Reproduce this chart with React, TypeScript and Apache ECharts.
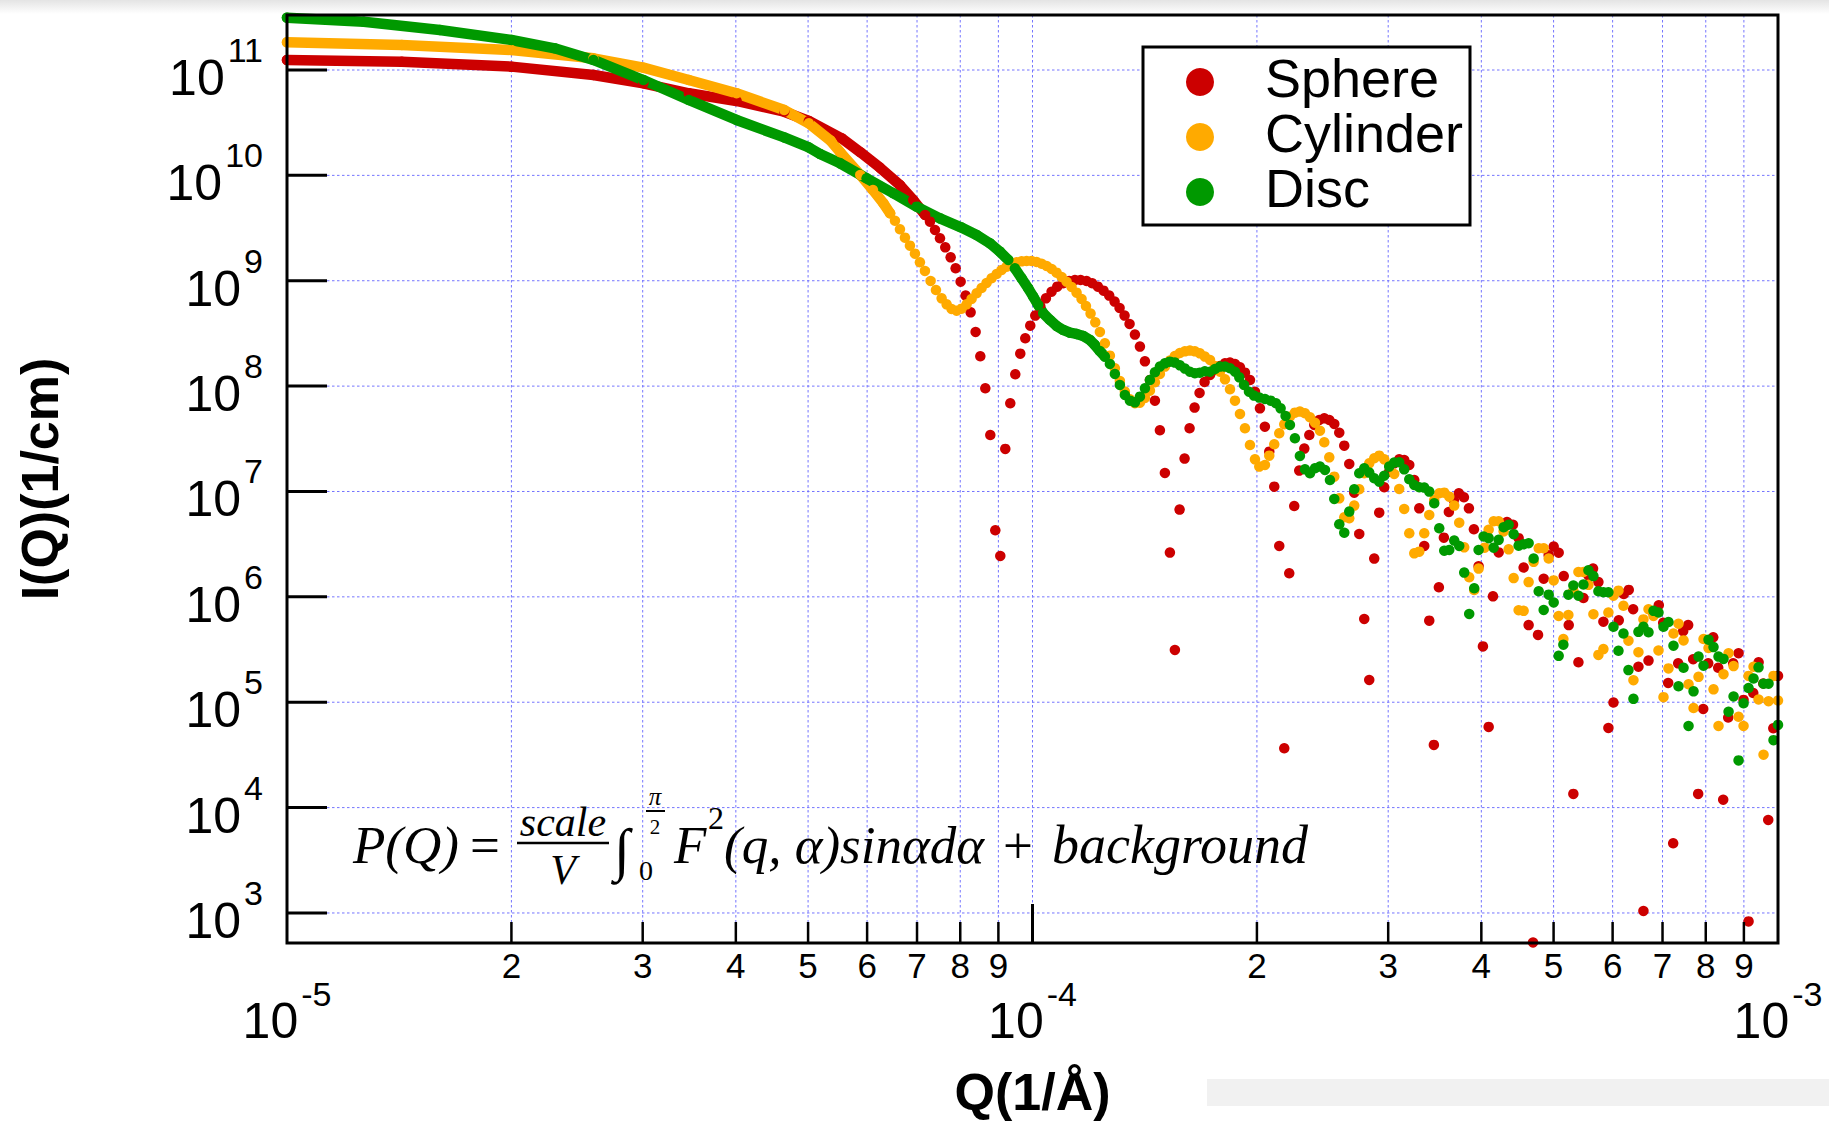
import React, { useEffect, useRef } from "react";
import * as echarts from "echarts";

// Every sample is stored in decades: [log10 Q (1/Å), log10 I(Q) (1/cm)].
// "Band" lists cover the low-Q stretch where consecutive samples merge into one
// solid stroke; "Dots" lists hold the samples that stand apart further out.
type Pt = [number, number];

const sphereBand: Pt[] = [
  [-5.0, 11.095], [-4.846, 11.079], [-4.699, 11.032], [-4.589, 10.953], [-4.522, 10.874],
  [-4.461, 10.779], [-4.397, 10.706], [-4.333, 10.604], [-4.3, 10.516], [-4.256, 10.352],
  [-4.231, 10.22], [-4.205, 10.075], [-4.178, 9.909], [-4.16, 9.766], [-4.144, 9.624],
];
const sphereDots: Pt[] = [
  [-4.1375, 9.561], [-4.1308, 9.482], [-4.1241, 9.403], [-4.117, 9.317], [-4.1098, 9.222],
  [-4.1031, 9.118], [-4.0964, 8.991], [-4.0897, 8.859], [-4.083, 8.7], [-4.0763, 8.514],
  [-4.07, 8.283], [-4.0633, 7.979], [-4.0566, 7.536], [-4.0499, 6.632], [-4.0432, 6.388],
  [-4.0365, 7.404], [-4.0298, 7.837], [-4.0231, 8.112], [-4.0164, 8.308], [-4.0097, 8.454],
  [-4.003, 8.574], [-3.9963, 8.669], [-3.9896, 8.76], [-3.982, 8.833], [-3.9744, 8.896],
  [-3.9668, 8.944], [-3.9588, 8.976], [-3.9507, 8.998], [-3.9431, 9.007], [-3.9355, 9.007],
  [-3.9275, 8.998], [-3.9199, 8.976], [-3.9123, 8.944], [-3.9047, 8.906], [-3.8971, 8.859],
  [-3.8899, 8.802], [-3.8832, 8.742], [-3.8765, 8.669], [-3.8698, 8.59], [-3.8626, 8.489],
  [-3.8559, 8.375], [-3.8492, 8.235], [-3.8425, 8.058], [-3.8358, 7.862], [-3.8291, 7.581],
  [-3.8224, 7.176], [-3.8157, 6.42], [-3.809, 5.496], [-3.8027, 6.828], [-3.796, 7.312],
  [-3.7893, 7.6], [-3.7826, 7.796], [-3.7759, 7.935], [-3.7692, 8.039], [-3.7619, 8.106],
  [-3.7552, 8.153], [-3.7485, 8.191], [-3.7418, 8.216], [-3.7351, 8.223], [-3.7284, 8.21],
  [-3.7217, 8.178], [-3.715, 8.128], [-3.7083, 8.058], [-3.7016, 7.947], [-3.6949, 7.789],
  [-3.6883, 7.615], [-3.6824, 7.378], [-3.6757, 7.046], [-3.669, 6.483], [-3.6623, 4.563],
  [-3.6556, 6.224], [-3.6489, 6.862], [-3.6422, 7.198], [-3.6354, 7.407], [-3.6287, 7.536],
  [-3.622, 7.631], [-3.6153, 7.679], [-3.6086, 7.694], [-3.6019, 7.679], [-3.5952, 7.641],
  [-3.5885, 7.558], [-3.5818, 7.435], [-3.5751, 7.261], [-3.5684, 6.989], [-3.5617, 6.597],
  [-3.555, 5.79], [-3.5483, 5.211], [-3.5416, 6.363], [-3.5349, 6.799], [-3.5282, 7.04],
  [-3.5215, 7.188], [-3.5148, 7.267], [-3.5081, 7.305], [-3.5014, 7.299], [-3.4946, 7.252],
  [-3.4879, 7.109], [-3.4812, 6.84], [-3.4745, 6.483], [-3.4678, 5.774], [-3.4616, 4.595],
  [-3.4549, 6.091], [-3.4482, 6.562], [-3.4415, 6.806], [-3.4348, 6.919], [-3.4281, 6.983],
  [-3.4213, 6.945], [-3.4146, 6.84], [-3.4079, 6.641], [-3.4016, 6.291], [-3.3958, 5.53],
  [-3.3881, 4.766], [-3.3823, 6.005], [-3.3747, 6.422], [-3.3635, 6.711], [-3.3555, 6.685],
  [-3.3479, 6.557], [-3.3412, 6.278], [-3.3345, 5.732], [-3.3286, 2.72], [-3.3219, 5.639],
  [-3.3143, 6.172], [-3.3076, 6.396], [-3.3009, 6.477], [-3.2942, 6.419], [-3.2874, 6.197],
  [-3.2807, 5.732], [-3.2745, 4.13], [-3.2677, 5.379], [-3.261, 5.989], [-3.2543, 6.204],
  [-3.2481, 6.268], [-3.2409, 6.14], [-3.2342, 5.764], [-3.2275, 4.756], [-3.2207, 4.997],
  [-3.2136, 5.777], [-3.2069, 6.027], [-3.2002, 6.066], [-3.1943, 5.883], [-3.1872, 5.337],
  [-3.1805, 3.019], [-3.1737, 5.395], [-3.1675, 5.851], [-3.1599, 5.921], [-3.154, 5.754],
  [-3.1473, 5.183], [-3.1406, 3.661], [-3.1339, 5.369], [-3.1272, 5.674], [-3.1205, 5.732],
  [-3.1138, 5.408], [-3.1071, 4.13], [-3.1003, 4.936], [-3.0936, 5.369], [-3.0869, 5.616],
  [-3.0802, 5.327], [-3.0735, 4.075], [-3.0668, 4.855], [-3.0601, 5.369], [-3.0529, 5.465],
  [-3.0462, 5.022], [-3.0395, 2.92], [-3.0332, 5.087], [-3.026, 5.379], [-3.0198, 5.177],
  [-3.0131, 3.883], [-3.0063, 4.753], [-3.0, 5.25],
];

const cylinderBand: Pt[] = [
  [-5.0, 11.263], [-4.846, 11.237], [-4.699, 11.19], [-4.589, 11.111], [-4.522, 11.022],
  [-4.461, 10.905], [-4.397, 10.779], [-4.333, 10.62], [-4.3, 10.494], [-4.271, 10.33],
  [-4.258, 10.22], [-4.231, 10.004], [-4.214, 9.861], [-4.2, 9.735], [-4.191, 9.64],
];
const cylinderDots: Pt[] = [
  [-4.1845, 9.57], [-4.1778, 9.488], [-4.1711, 9.409], [-4.1644, 9.333], [-4.1577, 9.257],
  [-4.151, 9.175], [-4.1443, 9.093], [-4.1367, 8.998], [-4.1295, 8.912], [-4.1219, 8.833],
  [-4.1152, 8.776], [-4.1086, 8.732], [-4.1018, 8.716], [-4.0951, 8.735], [-4.0884, 8.776],
  [-4.0817, 8.827], [-4.075, 8.881], [-4.0683, 8.931], [-4.0616, 8.979], [-4.0549, 9.023],
  [-4.0481, 9.064], [-4.0414, 9.102], [-4.0347, 9.134], [-4.028, 9.156], [-4.0213, 9.175],
  [-4.0146, 9.184], [-4.0079, 9.188], [-4.0012, 9.188], [-3.9945, 9.178], [-3.9878, 9.162],
  [-3.9811, 9.14], [-3.9744, 9.112], [-3.9677, 9.077], [-3.961, 9.036], [-3.9543, 8.991],
  [-3.9476, 8.941], [-3.9409, 8.887], [-3.9342, 8.827], [-3.9283, 8.76], [-3.9221, 8.688],
  [-3.9158, 8.605], [-3.9096, 8.514], [-3.9029, 8.406], [-3.8962, 8.289], [-3.8895, 8.169],
  [-3.8828, 8.049], [-3.8761, 7.948], [-3.8693, 7.875], [-3.8626, 7.837], [-3.8559, 7.843],
  [-3.8492, 7.888], [-3.8425, 7.957], [-3.8358, 8.036], [-3.8291, 8.115], [-3.8224, 8.185],
  [-3.8157, 8.242], [-3.809, 8.286], [-3.8023, 8.315], [-3.7956, 8.33], [-3.7889, 8.337],
  [-3.7822, 8.33], [-3.7755, 8.311], [-3.7688, 8.28], [-3.7619, 8.248], [-3.7552, 8.191],
  [-3.7485, 8.137], [-3.7418, 8.064], [-3.7351, 7.97], [-3.7284, 7.862], [-3.7217, 7.736],
  [-3.715, 7.6], [-3.7083, 7.441], [-3.7016, 7.305], [-3.6958, 7.236], [-3.6882, 7.252],
  [-3.6824, 7.34], [-3.6757, 7.448], [-3.669, 7.552], [-3.6623, 7.638], [-3.6547, 7.71],
  [-3.648, 7.748], [-3.6413, 7.758], [-3.6345, 7.742], [-3.6278, 7.704], [-3.6211, 7.653],
  [-3.6144, 7.577], [-3.6086, 7.467], [-3.6019, 7.324], [-3.5952, 7.141], [-3.5885, 6.935],
  [-3.5818, 6.755], [-3.5751, 6.746], [-3.5684, 6.866], [-3.5617, 7.021], [-3.555, 7.173],
  [-3.5483, 7.267], [-3.5416, 7.315], [-3.5349, 7.34], [-3.5282, 7.305], [-3.5215, 7.245],
  [-3.5148, 7.166], [-3.5081, 7.024], [-3.5014, 6.834], [-3.4946, 6.603], [-3.4879, 6.413],
  [-3.4812, 6.429], [-3.4745, 6.603], [-3.4678, 6.777], [-3.4611, 6.919], [-3.4544, 6.983],
  [-3.4477, 6.989], [-3.441, 6.951], [-3.4343, 6.866], [-3.4276, 6.704], [-3.4209, 6.47],
  [-3.4142, 6.186], [-3.4075, 6.065], [-3.4016, 6.268], [-3.3935, 6.467], [-3.3881, 6.637],
  [-3.3814, 6.717], [-3.3747, 6.717], [-3.368, 6.621], [-3.3613, 6.451], [-3.3546, 6.178],
  [-3.3479, 5.873], [-3.3412, 5.867], [-3.3345, 6.14], [-3.3278, 6.332], [-3.321, 6.461],
  [-3.3143, 6.461], [-3.3076, 6.364], [-3.3009, 6.156], [-3.2942, 5.819], [-3.2879, 5.6],
  [-3.2812, 5.828], [-3.2745, 6.059], [-3.2677, 6.236], [-3.261, 6.236], [-3.2543, 6.114],
  [-3.2476, 5.835], [-3.2409, 5.449], [-3.2342, 5.504], [-3.2275, 5.851], [-3.2207, 6.011],
  [-3.214, 6.059], [-3.2073, 5.915], [-3.2006, 5.584], [-3.1939, 5.209], [-3.1872, 5.475],
  [-3.1805, 5.786], [-3.1737, 5.883], [-3.167, 5.819], [-3.1603, 5.491], [-3.1536, 5.048],
  [-3.1469, 5.321], [-3.1402, 5.652], [-3.1335, 5.745], [-3.1267, 5.587], [-3.12, 5.17],
  [-3.1133, 4.945], [-3.1066, 5.241], [-3.0999, 5.6], [-3.0932, 5.514], [-3.0865, 5.122],
  [-3.0798, 4.775], [-3.0731, 5.266], [-3.0663, 5.465], [-3.0596, 5.343], [-3.0529, 4.862],
  [-3.0462, 4.775], [-3.0395, 5.25], [-3.0328, 5.337], [-3.0261, 5.026], [-3.0194, 4.502],
  [-3.0127, 5.01], [-3.006, 5.25], [-3.0, 5.016],
];

const discBand: Pt[] = [
  [-5.0, 11.496], [-4.897, 11.458], [-4.795, 11.38], [-4.699, 11.285], [-4.641, 11.206],
  [-4.589, 11.095], [-4.522, 10.905], [-4.461, 10.715], [-4.397, 10.526], [-4.333, 10.36],
  [-4.3, 10.265], [-4.285, 10.203], [-4.258, 10.114], [-4.2225, 9.972], [-4.1867, 9.83],
  [-4.1554, 9.703], [-4.1241, 9.592], [-4.096, 9.507], [-4.075, 9.434], [-4.0571, 9.355],
  [-4.0437, 9.276], [-4.0325, 9.197], [-4.0236, 9.118], [-4.0146, 9.023], [-4.0057, 8.928],
  [-3.999, 8.849], [-3.9923, 8.77], [-3.9856, 8.691], [-3.9766, 8.628], [-3.9677, 8.571],
  [-3.9588, 8.533], [-3.9498, 8.507], [-3.9409, 8.495], [-3.9319, 8.476], [-3.923, 8.438],
  [-3.9163, 8.39], [-3.9096, 8.333], [-3.9029, 8.28],
];
const discDots: Pt[] = [
  [-3.8962, 8.21], [-3.8895, 8.115], [-3.8828, 8.011], [-3.8761, 7.916], [-3.8693, 7.862],
  [-3.8626, 7.846], [-3.8559, 7.9], [-3.8492, 7.979], [-3.8425, 8.058], [-3.8358, 8.131],
  [-3.8291, 8.185], [-3.8224, 8.216], [-3.8157, 8.232], [-3.809, 8.223], [-3.8023, 8.197],
  [-3.7956, 8.166], [-3.7889, 8.137], [-3.7822, 8.122], [-3.7755, 8.128], [-3.7688, 8.14],
  [-3.7619, 8.137], [-3.7552, 8.162], [-3.7485, 8.185], [-3.7418, 8.185], [-3.7351, 8.169],
  [-3.7284, 8.137], [-3.7226, 8.083], [-3.7163, 8.011], [-3.7096, 7.947], [-3.7029, 7.91],
  [-3.6958, 7.891], [-3.6882, 7.878], [-3.6806, 7.862], [-3.6734, 7.837], [-3.6672, 7.789],
  [-3.6605, 7.717], [-3.6547, 7.631], [-3.648, 7.505], [-3.6413, 7.337], [-3.6345, 7.21],
  [-3.6278, 7.173], [-3.6211, 7.22], [-3.6144, 7.236], [-3.6077, 7.204], [-3.601, 7.109],
  [-3.5952, 6.929], [-3.5885, 6.689], [-3.5818, 6.609], [-3.5751, 6.809], [-3.5684, 7.021],
  [-3.5617, 7.173], [-3.555, 7.22], [-3.5483, 7.179], [-3.5416, 7.125], [-3.5349, 7.093],
  [-3.5282, 7.15], [-3.5215, 7.236], [-3.5148, 7.274], [-3.5081, 7.277], [-3.5014, 7.21],
  [-3.4946, 7.116], [-3.4879, 7.062], [-3.4812, 7.04], [-3.4745, 7.037], [-3.4678, 6.999],
  [-3.4611, 6.888], [-3.4544, 6.651], [-3.4477, 6.438], [-3.441, 6.445], [-3.4343, 6.534],
  [-3.4276, 6.483], [-3.4209, 6.23], [-3.4142, 5.838], [-3.4075, 6.081], [-3.4016, 6.445],
  [-3.3949, 6.573], [-3.3881, 6.557], [-3.3814, 6.467], [-3.3747, 6.541], [-3.368, 6.66],
  [-3.3613, 6.685], [-3.3546, 6.595], [-3.3479, 6.486], [-3.3412, 6.499], [-3.3345, 6.509],
  [-3.3278, 6.364], [-3.321, 6.053], [-3.3143, 5.876], [-3.3076, 6.021], [-3.3009, 5.947],
  [-3.2942, 5.44], [-3.2879, 5.546], [-3.2812, 6.021], [-3.2745, 6.108], [-3.2677, 6.011],
  [-3.261, 6.117], [-3.2543, 6.252], [-3.2476, 6.197], [-3.2409, 6.053], [-3.2342, 6.043],
  [-3.2275, 6.043], [-3.2207, 5.716], [-3.214, 5.488], [-3.2073, 5.652], [-3.2006, 5.305],
  [-3.1939, 5.032], [-3.1872, 5.668], [-3.1805, 5.716], [-3.1737, 5.664], [-3.167, 5.867],
  [-3.1603, 5.851], [-3.1536, 5.716], [-3.1469, 5.761], [-3.1402, 5.536], [-3.1335, 5.151],
  [-3.1267, 5.327], [-3.12, 4.775], [-3.1133, 5.103], [-3.1066, 5.433], [-3.0999, 5.347],
  [-3.0932, 5.594], [-3.0865, 5.523], [-3.0798, 5.433], [-3.0731, 5.411], [-3.0663, 4.91],
  [-3.0596, 5.055], [-3.0529, 4.448], [-3.0462, 4.99], [-3.0395, 5.135], [-3.0328, 5.225],
  [-3.0261, 5.331], [-3.0194, 5.176], [-3.0127, 5.176], [-3.006, 4.64], [-3.0, 4.785],
];

const SERIES_NAMES = ["Sphere", "Cylinder", "Disc"];
const SERIES_COLORS = ["#cc0000", "#ffaa00", "#009900"];

// Axis ranges (decades) and tick labelling.
const Q_RANGE: [number, number] = [-5, -3];
const I_RANGE: [number, number] = [2.715, 11.522];
const Y_DECADES = [3, 4, 5, 6, 7, 8, 9, 10, 11];
const X_DECADES = [-5, -4, -3];
const MINOR_STEPS = [2, 3, 4, 5, 6, 7, 8, 9];

const SANS = "'Liberation Sans', Arial, Helvetica, sans-serif";
const SERIF = "'Liberation Serif', 'Times New Roman', serif";
const GRID_BLUE = "#7474ff";

const toValue = (p: Pt) => [Math.pow(10, p[0]), Math.pow(10, p[1])];

export default function App() {
  const ref = useRef<HTMLDivElement>(null);

  useEffect(() => {
    const el = ref.current;
    if (!el) return;
    const chart = echarts.init(el, null, { renderer: "svg" });

    const groups = [
      { band: sphereBand, dots: sphereDots },
      { band: cylinderBand, dots: cylinderDots },
      { band: discBand, dots: discDots },
    ];

    const series: any[] = [];
    groups.forEach((grp, i) => {
      series.push({
        type: "line",
        name: SERIES_NAMES[i] + " (dense)",
        data: grp.band.map(toValue),
        symbol: "none",
        showSymbol: false,
        silent: true,
        clip: false,
        z: 2,
        lineStyle: { color: SERIES_COLORS[i], width: 10.5, cap: "round", join: "round" },
      });
      series.push({
        type: "scatter",
        name: SERIES_NAMES[i],
        data: [...grp.band, ...grp.dots].map(toValue),
        symbol: "circle",
        symbolSize: 10.5,
        silent: true,
        clip: false,
        z: 2,
        itemStyle: { color: SERIES_COLORS[i], opacity: 1 },
      });
    });

    chart.setOption({
      animation: false,
      backgroundColor: "#ffffff",
      grid: { left: 287, top: 15, width: 1491, height: 928, containLabel: false },
      xAxis: {
        type: "log",
        logBase: 10,
        min: Math.pow(10, Q_RANGE[0]),
        max: Math.pow(10, Q_RANGE[1]),
        show: false,
      },
      yAxis: {
        type: "log",
        logBase: 10,
        min: Math.pow(10, I_RANGE[0]),
        max: Math.pow(10, I_RANGE[1]),
        show: false,
      },
      series,
    });

    const X = (q: number) => chart.convertToPixel({ xAxisIndex: 0 }, q) as number;
    const Y = (v: number) => chart.convertToPixel({ yAxisIndex: 0 }, v) as number;
    const L = X(Math.pow(10, Q_RANGE[0]));
    const R = X(Math.pow(10, Q_RANGE[1]));
    const T = Y(Math.pow(10, I_RANGE[1]));
    const B = Y(Math.pow(10, I_RANGE[0]));

    const ctx = document.createElement("canvas").getContext("2d") as CanvasRenderingContext2D;
    const measure = (s: string, font: string) => {
      ctx.font = font;
      return ctx.measureText(s).width;
    };

    const text = (s: string, x: number, y: number, font: string, align = "left", extra: any = {}) => ({
      type: "text",
      x,
      y,
      z: 40,
      silent: true,
      ...extra,
      style: {
        text: s,
        font,
        fill: "#000",
        align,
        verticalAlign: "middle",
        textAlign: align,
        textVerticalAlign: "middle",
      },
    });
    const line = (x1: number, y1: number, x2: number, y2: number, style: any, z = 30) => ({
      type: "line",
      z,
      silent: true,
      shape: { x1, y1, x2, y2 },
      style,
    });

    const g: any[] = [];

    // page shading at the top edge and the pale strip at the lower right
    g.push({
      type: "rect",
      z: -10,
      silent: true,
      shape: { x: 0, y: 0, width: 1829, height: 14 },
      style: {
        fill: new echarts.graphic.LinearGradient(0, 0, 0, 1, [
          { offset: 0, color: "#e4e4e4" },
          { offset: 1, color: "#ffffff" },
        ]),
      },
    });
    g.push({
      type: "rect",
      z: -10,
      silent: true,
      shape: { x: 1207, y: 1079, width: 622, height: 27 },
      style: { fill: "#f1f1f1" },
    });

    // dotted grid
    const gridStyle = { stroke: GRID_BLUE, lineWidth: 1, lineDash: [2.5, 2.5] };
    Y_DECADES.forEach((e) => {
      const y = Y(Math.pow(10, e));
      g.push(line(L, y, R, y, gridStyle, 0));
    });
    const verticals: number[] = [];
    [-5, -4].forEach((d) => MINOR_STEPS.forEach((m) => verticals.push(m * Math.pow(10, d))));
    verticals.push(1e-4);
    verticals.forEach((q) => {
      const x = X(q);
      g.push(line(x, T, x, B, gridStyle, 0));
    });

    // frame and ticks
    g.push({
      type: "rect",
      z: 30,
      silent: true,
      shape: { x: L, y: T, width: R - L, height: B - T },
      style: { fill: "none", stroke: "#000", lineWidth: 3 },
    });
    const tickStyle = { stroke: "#000", lineWidth: 3 };
    Y_DECADES.forEach((e) => {
      const y = Y(Math.pow(10, e));
      g.push(line(L, y, L + 40, y, tickStyle));
    });
    [-5, -4].forEach((d) =>
      MINOR_STEPS.forEach((m) => {
        const x = X(m * Math.pow(10, d));
        g.push(line(x, B, x, B - 21, { stroke: "#000", lineWidth: 2.5 }));
      })
    );
    g.push(line(X(1e-4), B, X(1e-4), B - 39, tickStyle));

    // y tick labels: 10 with a raised exponent
    const baseFont = `50px ${SANS}`;
    const supFont = `34px ${SANS}`;
    Y_DECADES.forEach((e) => {
      const y = Y(Math.pow(10, e));
      const sup = String(e);
      const supW = measure(sup, supFont);
      const right = L - 24;
      g.push(text("10", right - supW - 3, y + 8, baseFont, "right"));
      g.push(text(sup, right, y - 20, supFont, "right"));
    });

    // x tick labels
    const minorFont = `35px ${SANS}`;
    [-5, -4].forEach((d) =>
      MINOR_STEPS.forEach((m) => {
        g.push(text(String(m), X(m * Math.pow(10, d)), B + 22, minorFont, "center"));
      })
    );
    X_DECADES.forEach((d) => {
      const x = X(Math.pow(10, d));
      const sup = String(d);
      const baseW = measure("10", baseFont);
      const supW = measure(sup, supFont);
      const left = x - (baseW + 3 + supW) / 2;
      g.push(text("10", left, B + 78, baseFont, "left"));
      g.push(text(sup, left + baseW + 3, B + 51, supFont, "left"));
    });

    // axis titles
    g.push(text("Q(1/Å)", (L + R) / 2, 1092, `bold 52px ${SANS}`, "center"));
    g.push(text("I(Q)(1/cm)", 40, (T + B) / 2, `bold 52px ${SANS}`, "center", { rotation: Math.PI / 2 }));

    // legend
    g.push({
      type: "rect",
      z: 45,
      silent: true,
      shape: { x: 1143, y: 47, width: 327, height: 178 },
      style: { fill: "#fff", stroke: "#000", lineWidth: 3 },
    });
    SERIES_NAMES.forEach((name, i) => {
      const cy = 82 + i * 55;
      g.push({
        type: "circle",
        z: 46,
        silent: true,
        shape: { cx: 1200, cy, r: 14 },
        style: { fill: SERIES_COLORS[i] },
      });
      g.push(text(name, 1265, cy - 4, `54px ${SANS}`, "left", { z: 46 }));
    });

    // model expression
    const it = (size: number) => `italic ${size}px ${SERIF}`;
    const up = (size: number) => `${size}px ${SERIF}`;
    const eq: any[] = [
      text("P(Q)", 353, 845, it(53)),
      text("=", 470, 845, up(53)),
      text("scale", 563, 822, it(42), "center"),
      line(517, 843, 609, 843, { stroke: "#000", lineWidth: 2.5 }, 40),
      text("V", 563, 870, it(42), "center"),
      text("∫", 614, 849, up(58)),
      text("π", 655, 796, it(25), "center"),
      line(646, 811, 665, 811, { stroke: "#000", lineWidth: 2 }, 40),
      text("2", 655, 827, up(21), "center"),
      text("0", 646, 870, up(28), "center"),
      text("F", 674, 845, it(53)),
      text("2", 708, 818, up(32)),
      text("(q, α)sinαdα", 724, 845, it(53)),
      text("+", 1003, 845, up(53)),
      text("background", 1052, 845, it(54)),
    ];
    g.push(...eq);

    chart.setOption({ graphic: { elements: g } });

    return () => {
      chart.dispose();
    };
  }, []);

  return (
    <div
      ref={ref}
      style={{ position: "fixed", left: 0, top: 0, width: 1829, height: 1121, background: "#fff" }}
    />
  );
}
